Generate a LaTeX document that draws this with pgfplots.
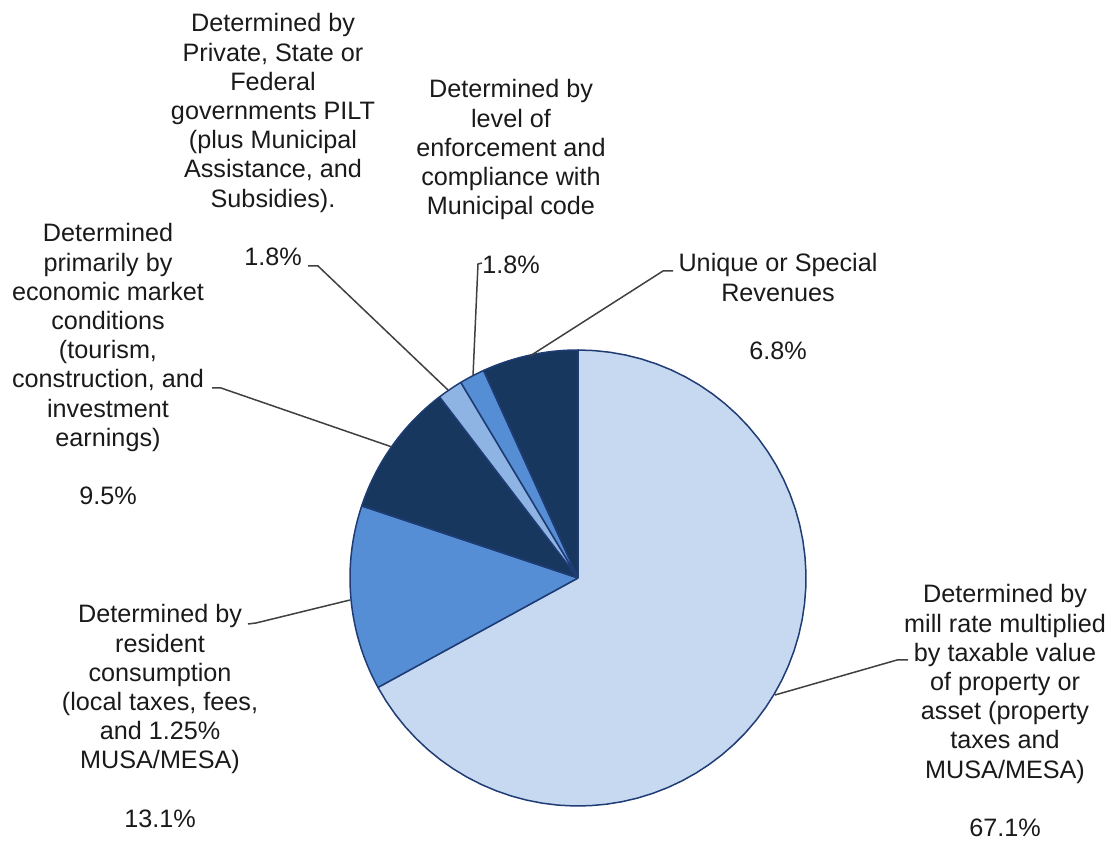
\documentclass[border=0pt]{standalone}
\usepackage{pgfplots}
\usepackage{pgfplotstable}
\pgfplotsset{compat=1.18}
\usepackage{fontspec}
\setmainfont{Liberation Sans}
\definecolor{lightbl}{HTML}{C6D9F1}
\definecolor{medbl}{HTML}{558ED5}
\definecolor{navy}{HTML}{17375E}
\definecolor{smallbl}{HTML}{8EB4E3}
\definecolor{border}{HTML}{203C74}
\definecolor{leader}{HTML}{404040}
\definecolor{txt}{HTML}{1A1A1A}

\pgfplotstableread{
value
67.1
13.1
9.5
1.8
1.8
6.8
}\piedata

\pgfplotstablegetelem{0}{value}\of\piedata \let\vA\pgfplotsretval
\pgfplotstablegetelem{1}{value}\of\piedata \let\vB\pgfplotsretval
\pgfplotstablegetelem{2}{value}\of\piedata \let\vC\pgfplotsretval
\pgfplotstablegetelem{3}{value}\of\piedata \let\vD\pgfplotsretval
\pgfplotstablegetelem{4}{value}\of\piedata \let\vE\pgfplotsretval
\pgfplotstablegetelem{5}{value}\of\piedata \let\vF\pgfplotsretval
\pgfmathsetmacro\tot{\vA+\vB+\vC+\vD+\vE+\vF}
\pgfmathsetmacro\aA{90}
\pgfmathsetmacro\aB{\aA-360*(\vA/\tot)}
\pgfmathsetmacro\aC{\aB-360*(\vB/\tot)}
\pgfmathsetmacro\aD{\aC-360*(\vC/\tot)}
\pgfmathsetmacro\aE{\aD-360*(\vD/\tot)}
\pgfmathsetmacro\aF{\aE-360*(\vE/\tot)}
\pgfmathsetmacro\aG{\aF-360*(\vF/\tot)}

\newcommand\slice[3]{%
\addplot[fill=#3, draw=border, line width=0.75pt, line join=round, no markers,
  variable=\t, samples at={-1,0,...,61}]
  ({578+228*(\t>=0)*(\t<=60)*cos(#1+(#2-#1)*\t/60)},
   {263+228*(\t>=0)*(\t<=60)*sin(#1+(#2-#1)*\t/60)});}

\newcommand\lbl[3]{%
\node[anchor=base, inner sep=0pt, text=txt, font=\fontsize{12.6pt}{14.6pt}\selectfont]
  at (axis cs:#1,#2) {\setlength\tabcolsep{0pt}\begin{tabular}[t]{c}#3\end{tabular}};}

\begin{document}
\begin{tikzpicture}
\begin{axis}[
  scale only axis, width=557pt, height=420.5pt,
  xmin=0, xmax=1114, ymin=0, ymax=841,
  hide axis, clip=false]
\slice{\aA}{\aB}{lightbl}
\slice{\aB}{\aC}{medbl}
\slice{\aC}{\aD}{navy}
\slice{\aD}{\aE}{smallbl}
\slice{\aE}{\aF}{medbl}
\slice{\aF}{\aG}{navy}

\addplot[leader, line width=0.75pt, no markers] coordinates {(908,181) (897,181) (775,146)};
\addplot[leader, line width=0.75pt, no markers] coordinates {(248,217) (256,218) (350,241)};
\addplot[leader, line width=0.75pt, no markers] coordinates {(212,453) (221,453) (392,394)};
\addplot[leader, line width=0.75pt, no markers] coordinates {(308,575) (318,575) (448,451)};
\addplot[leader, line width=0.75pt, no markers] coordinates {(482,578) (478,577) (473,465)};
\addplot[leader, line width=0.75pt, no markers] coordinates {(673,570) (663,570) (530,485)};

\lbl{1005}{238}{Determined by\\ mill rate multiplied\\ by taxable value\\ of property or\\ asset (property\\ taxes and\\ MUSA/MESA)\\ \\ 67.1\%}
\lbl{160}{218}{Determined by\\ resident\\ consumption\\ (local taxes, fees,\\ and 1.25\%\\ MUSA/MESA)\\ \\ 13.1\%}
\lbl{108}{599}{Determined\\ primarily by\\ economic market\\ conditions\\ (tourism,\\ construction, and\\ investment\\ earnings)\\ \\ 9.5\%}
\lbl{273}{809}{Determined by\\ Private, State or\\ Federal\\ governments PILT\\ (plus Municipal\\ Assistance, and\\ Subsidies).\\ \\ 1.8\%}
\lbl{511}{743}{Determined by\\ level of\\ enforcement and\\ compliance with\\ Municipal code\\ \\ 1.8\%}
\lbl{778}{569}{Unique or Special\\ Revenues\\ \\ 6.8\%}
\end{axis}
\pgfresetboundingbox
\path (current axis.south west) rectangle (current axis.north east);
\end{tikzpicture}
\end{document}
